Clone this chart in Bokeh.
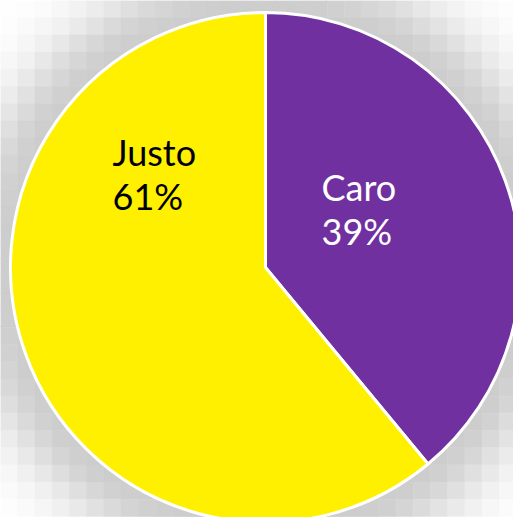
import numpy as np
from bokeh.plotting import figure
from bokeh.models import Range1d, ColumnDataSource
from bokeh.core.properties import value
from bokeh.embed import file_html
from bokeh.resources import INLINE

# Data
categories = ["Caro", "Justo"]
values = [39, 61]
colors = ["#7030A0", "#FFF000"]
text_colors = ["#FFFFFF", "#000000"]

W, H = 513, 517
cx, cy, R = 265, H - 267, 255

p = figure(width=W, height=H, x_range=Range1d(0, W), y_range=Range1d(0, H),
           output_backend="svg", toolbar_location=None, min_border=0)
p.axis.visible = False
p.grid.visible = False
p.outline_line_color = None
p.background_fill_color = "#FFFFFF"
p.border_fill_color = "#FFFFFF"

# blocky soft shadow behind the pie
blk = 17.2
ls, rs, ts, bs, fc = [], [], [], [], []
nx = int(np.ceil(W / blk)) + 1
ny = int(np.ceil(H / blk)) + 1
for i in range(nx):
    for j in range(ny):
        x0 = i * blk
        y0 = j * blk
        mx, my = x0 + blk / 2, y0 + blk / 2
        d = max(0.0, np.hypot(mx - cx, (H - my) - cy) - R)
        g = int(round(255 - 50 * np.exp(-(d / 55.0) ** 2)))
        ls.append(x0)
        rs.append(x0 + blk)
        ts.append(H - y0)
        bs.append(H - y0 - blk)
        fc.append("#%02x%02x%02x" % (g, g, g))
p.quad(left=ls, right=rs, top=ts, bottom=bs, fill_color=fc, line_color=fc, line_width=0.5)

# pie
total = float(sum(values))
frac = np.array(values) / total
cum = np.concatenate([[0], np.cumsum(frac)])
start = np.pi / 2 - 2 * np.pi * cum[1:]
end = np.pi / 2 - 2 * np.pi * cum[:-1]
src = ColumnDataSource(dict(start=start, end=end, color=colors))
p.wedge(x=cx, y=cy, radius=R, start_angle="start", end_angle="end",
        fill_color="color", line_color="#FFFFFF", line_width=3, source=src)

# labels
labels = [f"{c}\n{v}%" for c, v in zip(categories, values)]
lx = [321, 112]
ly = [H - 208, H - 173]
p.text(x=lx, y=ly, text=labels, text_color=text_colors,
       text_font=value("Lato"), text_font_size="36px",
       text_align="left", text_baseline="middle", text_line_height=1.0)

open("out.html", "w").write(file_html(p, INLINE))
